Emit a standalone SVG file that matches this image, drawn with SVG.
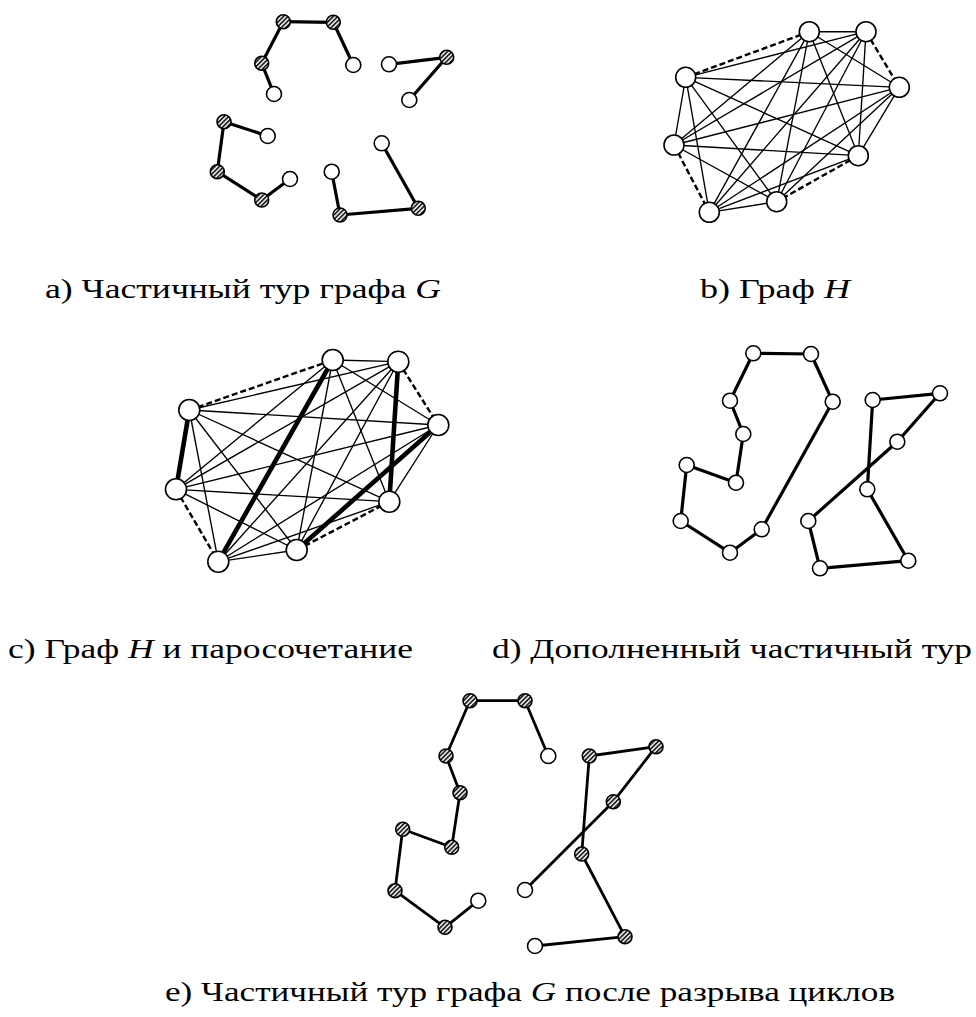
<svg xmlns="http://www.w3.org/2000/svg" width="976" height="1017" viewBox="0 0 976 1017">
<defs>
<pattern id="hatch" width="3.2" height="3.2" patternUnits="userSpaceOnUse" patternTransform="rotate(45)">
<rect width="3.2" height="3.2" fill="#fff"/>
<rect width="1.8" height="3.2" fill="#222"/>
</pattern>
<style>
.o circle{fill:#fff;stroke:#000;stroke-width:1.6}
.h circle{fill:url(#hatch);stroke:#000;stroke-width:1.6}
.k line{stroke:#000;stroke-width:3.2;stroke-linecap:round}
.ke line{stroke:#000;stroke-width:2.8;stroke-linecap:round}
.t line{stroke:#000;stroke-width:1.35}
.d line{stroke:#000;stroke-width:2.4;stroke-dasharray:6 3}
.m line{stroke:#000;stroke-width:4.6;stroke-linecap:round}
text{font-family:"Liberation Serif","DejaVu Serif",serif;font-size:27px;fill:#000}
.i{font-style:italic}
</style>
</defs>
<rect width="976" height="1017" fill="#fff"/>

<g id="connectors">
 <g id="edges-a" class="k">
  <line x1="261.7" y1="63.3" x2="283.3" y2="21.7"/>
  <line x1="283.3" y1="21.7" x2="333.3" y2="22.3"/>
  <line x1="333.3" y1="22.3" x2="353.3" y2="65"/>
  <line x1="261.7" y1="63.3" x2="274" y2="94"/>
  <line x1="389" y1="64.3" x2="446.7" y2="57.3"/>
  <line x1="446.7" y1="57.3" x2="409.3" y2="100"/>
  <line x1="224" y1="121.7" x2="267.7" y2="136"/>
  <line x1="224" y1="121.7" x2="217.3" y2="171.7"/>
  <line x1="217.3" y1="171.7" x2="261.7" y2="200"/>
  <line x1="261.7" y1="200" x2="290" y2="179"/>
  <line x1="331.7" y1="171.7" x2="340" y2="215"/>
  <line x1="340" y1="215" x2="418.3" y2="208.3"/>
  <line x1="418.3" y1="208.3" x2="381.7" y2="143.3"/>
 </g>
 <g id="edges-b">
  <g class="t">
   <line x1="809.3" y1="31.7" x2="866" y2="31.7"/>
   <line x1="809.3" y1="31.7" x2="899.3" y2="87.3"/>
   <line x1="809.3" y1="31.7" x2="674" y2="145"/>
   <line x1="809.3" y1="31.7" x2="858.3" y2="155.7"/>
   <line x1="809.3" y1="31.7" x2="776.7" y2="201.7"/>
   <line x1="809.3" y1="31.7" x2="709.3" y2="212.3"/>
   <line x1="866" y1="31.7" x2="685.7" y2="77.3"/>
   <line x1="866" y1="31.7" x2="674" y2="145"/>
   <line x1="866" y1="31.7" x2="858.3" y2="155.7"/>
   <line x1="866" y1="31.7" x2="776.7" y2="201.7"/>
   <line x1="866" y1="31.7" x2="709.3" y2="212.3"/>
   <line x1="685.7" y1="77.3" x2="899.3" y2="87.3"/>
   <line x1="685.7" y1="77.3" x2="674" y2="145"/>
   <line x1="685.7" y1="77.3" x2="858.3" y2="155.7"/>
   <line x1="685.7" y1="77.3" x2="776.7" y2="201.7"/>
   <line x1="685.7" y1="77.3" x2="709.3" y2="212.3"/>
   <line x1="899.3" y1="87.3" x2="674" y2="145"/>
   <line x1="899.3" y1="87.3" x2="858.3" y2="155.7"/>
   <line x1="899.3" y1="87.3" x2="776.7" y2="201.7"/>
   <line x1="899.3" y1="87.3" x2="709.3" y2="212.3"/>
   <line x1="674" y1="145" x2="858.3" y2="155.7"/>
   <line x1="674" y1="145" x2="776.7" y2="201.7"/>
   <line x1="858.3" y1="155.7" x2="709.3" y2="212.3"/>
   <line x1="776.7" y1="201.7" x2="709.3" y2="212.3"/>
  </g>
  <g class="d">
   <line x1="685.7" y1="77.3" x2="809.3" y2="31.7"/>
   <line x1="866" y1="31.7" x2="899.3" y2="87.3"/>
   <line x1="674" y1="145" x2="709.3" y2="212.3"/>
   <line x1="858.3" y1="155.7" x2="776.7" y2="201.7"/>
  </g>
 </g>
 <g id="edges-c">
  <g class="t">
   <line x1="332.7" y1="360" x2="398.3" y2="361.7"/>
   <line x1="332.7" y1="360" x2="438.3" y2="425"/>
   <line x1="332.7" y1="360" x2="176" y2="489.3"/>
   <line x1="332.7" y1="360" x2="389.3" y2="501.7"/>
   <line x1="332.7" y1="360" x2="296.7" y2="550"/>
   <line x1="398.3" y1="361.7" x2="189.3" y2="410"/>
   <line x1="398.3" y1="361.7" x2="176" y2="489.3"/>
   <line x1="398.3" y1="361.7" x2="296.7" y2="550"/>
   <line x1="398.3" y1="361.7" x2="218.3" y2="561.7"/>
   <line x1="189.3" y1="410" x2="438.3" y2="425"/>
   <line x1="189.3" y1="410" x2="389.3" y2="501.7"/>
   <line x1="189.3" y1="410" x2="296.7" y2="550"/>
   <line x1="189.3" y1="410" x2="218.3" y2="561.7"/>
   <line x1="438.3" y1="425" x2="176" y2="489.3"/>
   <line x1="438.3" y1="425" x2="389.3" y2="501.7"/>
   <line x1="438.3" y1="425" x2="218.3" y2="561.7"/>
   <line x1="176" y1="489.3" x2="389.3" y2="501.7"/>
   <line x1="176" y1="489.3" x2="296.7" y2="550"/>
   <line x1="389.3" y1="501.7" x2="218.3" y2="561.7"/>
   <line x1="296.7" y1="550" x2="218.3" y2="561.7"/>
  </g>
  <g class="d">
   <line x1="189.3" y1="410" x2="332.7" y2="360"/>
   <line x1="398.3" y1="361.7" x2="438.3" y2="425"/>
   <line x1="176" y1="489.3" x2="218.3" y2="561.7"/>
   <line x1="296.7" y1="550" x2="389.3" y2="501.7"/>
  </g>
  <g class="m">
   <line x1="189.3" y1="410" x2="176" y2="489.3"/>
   <line x1="332.7" y1="360" x2="218.3" y2="561.7"/>
   <line x1="398.3" y1="361.7" x2="389.3" y2="501.7"/>
   <line x1="438.3" y1="425" x2="296.7" y2="550"/>
  </g>
 </g>
 <g id="edges-d" class="k">
  <line x1="753.3" y1="353.3" x2="811" y2="354"/>
  <line x1="811" y1="354" x2="832.7" y2="401.7"/>
  <line x1="832.7" y1="401.7" x2="761.7" y2="529.3"/>
  <line x1="761.7" y1="529.3" x2="730" y2="552.7"/>
  <line x1="730" y1="552.7" x2="680.7" y2="521"/>
  <line x1="680.7" y1="521" x2="686.7" y2="465"/>
  <line x1="686.7" y1="465" x2="736" y2="482.7"/>
  <line x1="736" y1="482.7" x2="743.3" y2="434"/>
  <line x1="743.3" y1="434" x2="730" y2="400.7"/>
  <line x1="730" y1="400.7" x2="753.3" y2="353.3"/>
  <line x1="872.7" y1="400" x2="940" y2="393.3"/>
  <line x1="940" y1="393.3" x2="897.3" y2="441.7"/>
  <line x1="897.3" y1="441.7" x2="808.3" y2="521"/>
  <line x1="808.3" y1="521" x2="820" y2="568.3"/>
  <line x1="820" y1="568.3" x2="908.3" y2="560.7"/>
  <line x1="908.3" y1="560.7" x2="867.3" y2="489.3"/>
  <line x1="867.3" y1="489.3" x2="872.7" y2="400"/>
 </g>
 <g id="edges-e" class="ke">
  <line x1="470" y1="700.7" x2="525" y2="700.7"/>
  <line x1="525" y1="700.7" x2="548.3" y2="756"/>
  <line x1="470" y1="700.7" x2="446" y2="756"/>
  <line x1="446" y1="756" x2="460" y2="792.7"/>
  <line x1="460" y1="792.7" x2="451.7" y2="847.3"/>
  <line x1="451.7" y1="847.3" x2="402.7" y2="829.3"/>
  <line x1="402.7" y1="829.3" x2="395" y2="890.7"/>
  <line x1="395" y1="890.7" x2="445" y2="927.3"/>
  <line x1="445" y1="927.3" x2="478.3" y2="900.7"/>
  <line x1="589.3" y1="756" x2="656" y2="746.7"/>
  <line x1="656" y1="746.7" x2="613.3" y2="801.7"/>
  <line x1="613.3" y1="801.7" x2="525" y2="890"/>
  <line x1="589.3" y1="756" x2="581.7" y2="854"/>
  <line x1="581.7" y1="854" x2="625" y2="936.7"/>
  <line x1="625" y1="936.7" x2="535" y2="946"/>
 </g>
</g>

<g id="panel-a">
 <g id="a1" class="h"><circle cx="283.3" cy="21.7" r="7"/></g>
 <g id="a2" class="h"><circle cx="333.3" cy="22.3" r="7"/></g>
 <g id="a3" class="o"><circle cx="353.3" cy="65" r="7.5"/></g>
 <g id="a4" class="h"><circle cx="261.7" cy="63.3" r="7"/></g>
 <g id="a5" class="o"><circle cx="274" cy="94" r="7.5"/></g>
 <g id="a6" class="o"><circle cx="389" cy="64.3" r="7.5"/></g>
 <g id="a7" class="h"><circle cx="446.7" cy="57.3" r="7"/></g>
 <g id="a8" class="o"><circle cx="409.3" cy="100" r="7.5"/></g>
 <g id="a9" class="h"><circle cx="224" cy="121.7" r="7"/></g>
 <g id="a10" class="o"><circle cx="267.7" cy="136" r="7.5"/></g>
 <g id="a11" class="h"><circle cx="217.3" cy="171.7" r="7"/></g>
 <g id="a12" class="h"><circle cx="261.7" cy="200" r="7"/></g>
 <g id="a13" class="o"><circle cx="290" cy="179" r="7.5"/></g>
 <g id="a14" class="o"><circle cx="331.7" cy="171.7" r="7.5"/></g>
 <g id="a15" class="h"><circle cx="340" cy="215" r="7"/></g>
 <g id="a16" class="h"><circle cx="418.3" cy="208.3" r="7"/></g>
 <g id="a17" class="o"><circle cx="381.7" cy="143.3" r="7.5"/></g>
</g>

<g id="panel-b">
 <g id="b1" class="o"><circle cx="809.3" cy="31.7" r="10"/></g>
 <g id="b2" class="o"><circle cx="866" cy="31.7" r="10"/></g>
 <g id="b3" class="o"><circle cx="685.7" cy="77.3" r="10"/></g>
 <g id="b4" class="o"><circle cx="899.3" cy="87.3" r="10"/></g>
 <g id="b5" class="o"><circle cx="674" cy="145" r="10"/></g>
 <g id="b6" class="o"><circle cx="858.3" cy="155.7" r="10"/></g>
 <g id="b7" class="o"><circle cx="776.7" cy="201.7" r="10"/></g>
 <g id="b8" class="o"><circle cx="709.3" cy="212.3" r="10"/></g>
</g>

<g id="panel-c">
 <g id="c1" class="o"><circle cx="332.7" cy="360" r="10.5"/></g>
 <g id="c2" class="o"><circle cx="398.3" cy="361.7" r="10.5"/></g>
 <g id="c3" class="o"><circle cx="189.3" cy="410" r="10.5"/></g>
 <g id="c4" class="o"><circle cx="438.3" cy="425" r="10.5"/></g>
 <g id="c5" class="o"><circle cx="176" cy="489.3" r="10.5"/></g>
 <g id="c6" class="o"><circle cx="389.3" cy="501.7" r="10.5"/></g>
 <g id="c7" class="o"><circle cx="296.7" cy="550" r="10.5"/></g>
 <g id="c8" class="o"><circle cx="218.3" cy="561.7" r="10.5"/></g>
</g>

<g id="panel-d">
 <g id="d1" class="o"><circle cx="753.3" cy="353.3" r="7.5"/></g>
 <g id="d2" class="o"><circle cx="811" cy="354" r="7.5"/></g>
 <g id="d3" class="o"><circle cx="730" cy="400.7" r="7.5"/></g>
 <g id="d4" class="o"><circle cx="832.7" cy="401.7" r="7.5"/></g>
 <g id="d5" class="o"><circle cx="743.3" cy="434" r="7.5"/></g>
 <g id="d6" class="o"><circle cx="686.7" cy="465" r="7.5"/></g>
 <g id="d7" class="o"><circle cx="736" cy="482.7" r="7.5"/></g>
 <g id="d8" class="o"><circle cx="680.7" cy="521" r="7.5"/></g>
 <g id="d9" class="o"><circle cx="761.7" cy="529.3" r="7.5"/></g>
 <g id="d10" class="o"><circle cx="730" cy="552.7" r="7.5"/></g>
 <g id="d11" class="o"><circle cx="872.7" cy="400" r="7.5"/></g>
 <g id="d12" class="o"><circle cx="940" cy="393.3" r="7.5"/></g>
 <g id="d13" class="o"><circle cx="897.3" cy="441.7" r="7.5"/></g>
 <g id="d14" class="o"><circle cx="867.3" cy="489.3" r="7.5"/></g>
 <g id="d15" class="o"><circle cx="808.3" cy="521" r="7.5"/></g>
 <g id="d16" class="o"><circle cx="820" cy="568.3" r="7.5"/></g>
 <g id="d17" class="o"><circle cx="908.3" cy="560.7" r="7.5"/></g>
</g>

<g id="panel-e">
 <g id="e1" class="h"><circle cx="470" cy="700.7" r="7"/></g>
 <g id="e2" class="h"><circle cx="525" cy="700.7" r="7"/></g>
 <g id="e3" class="o"><circle cx="548.3" cy="756" r="7.5"/></g>
 <g id="e4" class="h"><circle cx="446" cy="756" r="7"/></g>
 <g id="e5" class="h"><circle cx="460" cy="792.7" r="7"/></g>
 <g id="e6" class="h"><circle cx="402.7" cy="829.3" r="7"/></g>
 <g id="e7" class="h"><circle cx="451.7" cy="847.3" r="7"/></g>
 <g id="e8" class="h"><circle cx="395" cy="890.7" r="7"/></g>
 <g id="e9" class="o"><circle cx="478.3" cy="900.7" r="7.5"/></g>
 <g id="e10" class="h"><circle cx="445" cy="927.3" r="7"/></g>
 <g id="e11" class="h"><circle cx="589.3" cy="756" r="7"/></g>
 <g id="e12" class="h"><circle cx="656" cy="746.7" r="7"/></g>
 <g id="e13" class="h"><circle cx="613.3" cy="801.7" r="7"/></g>
 <g id="e14" class="h"><circle cx="581.7" cy="854" r="7"/></g>
 <g id="e15" class="o"><circle cx="525" cy="890" r="7.5"/></g>
 <g id="e16" class="o"><circle cx="535" cy="946" r="7.5"/></g>
 <g id="e17" class="h"><circle cx="625" cy="936.7" r="7"/></g>
</g>

<g id="labels">
 <text x="45" y="298" textLength="396" lengthAdjust="spacingAndGlyphs">a) Частичный тур графа <tspan class="i">G</tspan></text>
 <text x="700" y="298" textLength="150" lengthAdjust="spacingAndGlyphs">b) Граф <tspan class="i">H</tspan></text>
 <text x="8" y="658" textLength="405" lengthAdjust="spacingAndGlyphs">c) Граф <tspan class="i">H</tspan> и паросочетание</text>
 <text x="492" y="658" textLength="480" lengthAdjust="spacingAndGlyphs">d) Дополненный частичный тур</text>
 <text x="165" y="1001" textLength="730" lengthAdjust="spacingAndGlyphs">e) Частичный тур графа <tspan class="i">G</tspan> после разрыва циклов</text>
</g>
</svg>
